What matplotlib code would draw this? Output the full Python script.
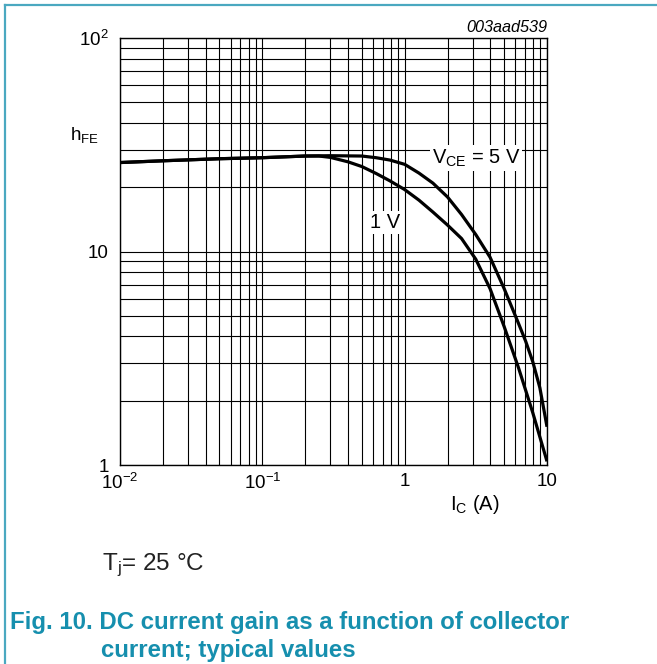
import matplotlib
matplotlib.use('Agg')
import matplotlib.pyplot as plt
from matplotlib.lines import Line2D

plt.rcParams['font.family'] = ['Liberation Sans', 'DejaVu Sans']
plt.rcParams['mathtext.fontset'] = 'custom'
plt.rcParams['mathtext.rm'] = 'Liberation Sans'
plt.rcParams['mathtext.it'] = 'Liberation Sans:italic'

# collector current (A) and DC current gain
ic_5v = [0.01, 0.02, 0.05, 0.1, 0.2, 0.3, 0.5, 0.63, 0.79, 1.0, 1.26, 1.58, 2.0,
         2.51, 3.16, 3.98, 5.0, 6.31, 7.08, 7.94, 8.91, 10.0]
hfe_5v = [26.1, 26.6, 27.2, 27.5, 28.0, 28.1, 28.0, 27.5, 26.8, 25.6, 23.3, 20.9,
          18.0, 14.9, 12.0, 9.4, 6.7, 4.6, 3.8, 3.05, 2.3, 1.51]

ic_1v = [0.01, 0.02, 0.05, 0.1, 0.2, 0.25, 0.3, 0.4, 0.5, 0.63, 0.79, 1.0, 1.26,
         1.58, 2.0, 2.51, 3.16, 3.98, 5.0, 6.31, 7.94, 10.0]
hfe_1v = [26.1, 26.6, 27.2, 27.5, 28.0, 28.0, 27.6, 26.3, 25.0, 23.2, 21.4, 19.5,
          17.4, 15.3, 13.3, 11.5, 9.2, 6.7, 4.45, 2.85, 1.76, 1.04]

x_ticks = [0.01, 0.1, 1, 10]
x_labels = ['10$^{-2}$', '10$^{-1}$', '1', '10']
y_ticks = [1, 10, 100]
y_labels = ['1', '10', '10$^{2}$']

W, H = 657, 664


def fx(px):
    return px / W


def fy(py):
    return 1 - py / H


fig = plt.figure(figsize=(6.57, 6.64), dpi=100)
ax = fig.add_axes([fx(120), fy(465), 427 / W, 427 / H])
ax.set_xscale('log')
ax.set_yscale('log')
ax.set_xlim(0.01, 10)
ax.set_ylim(1, 100)

ax.grid(True, which='both', color='black', linewidth=0.8)
ax.set_axisbelow(True)
for s in ax.spines.values():
    s.set_linewidth(1.0)

ax.plot(ic_5v, hfe_5v, color='black', linewidth=2.3, solid_capstyle='butt')
ax.plot(ic_1v, hfe_1v, color='black', linewidth=2.3, solid_capstyle='butt')

ax.set_xticks(x_ticks)
ax.set_xticklabels(x_labels, fontsize=13.5)
ax.set_yticks(y_ticks)
ax.set_yticklabels(y_labels, fontsize=13.5)
ax.tick_params(which='both', length=0, pad=8)
ax.tick_params(axis='x', pad=6)

box = dict(facecolor='white', edgecolor='none', pad=1.5)
ax.text(3.17, 27.4, '$\\mathrm{V_{CE}}$ = 5 V', fontsize=14.5, ha='center',
        va='center', bbox=box)
ax.text(0.73, 13.7, '1 V', fontsize=14.5, ha='center', va='center', bbox=box)

fig.text(fx(70), fy(135), '$\\mathrm{h_{FE}}$', fontsize=13.5, va='center')
fig.text(fx(450), fy(505), '$\\mathrm{I_{C}}$ (A)', fontsize=14.5, va='center')
fig.text(fx(547), fy(28), '003aad539', fontsize=11.7, style='italic',
         ha='right', va='center')
fig.text(fx(102), fy(565), '$\\mathrm{T_{j}}$= 25 °C', fontsize=17.5,
         va='center', color='#222222')

teal = '#168fae'
fig.text(fx(10), fy(622), 'Fig. 10. DC current gain as a function of collector',
         fontsize=17.3, fontweight='bold', color=teal, va='center')
fig.text(fx(101), fy(651), 'current; typical values',
         fontsize=17.3, fontweight='bold', color=teal, va='center')

# frame lines at the top and left of the figure
frame = '#4aa8c0'
fig.add_artist(Line2D([fx(5), 1], [fy(5), fy(5)], color=frame, linewidth=1.6))
fig.add_artist(Line2D([fx(5), fx(5)], [fy(5), 0], color=frame, linewidth=1.6))

fig.savefig('out.png', dpi=100)
